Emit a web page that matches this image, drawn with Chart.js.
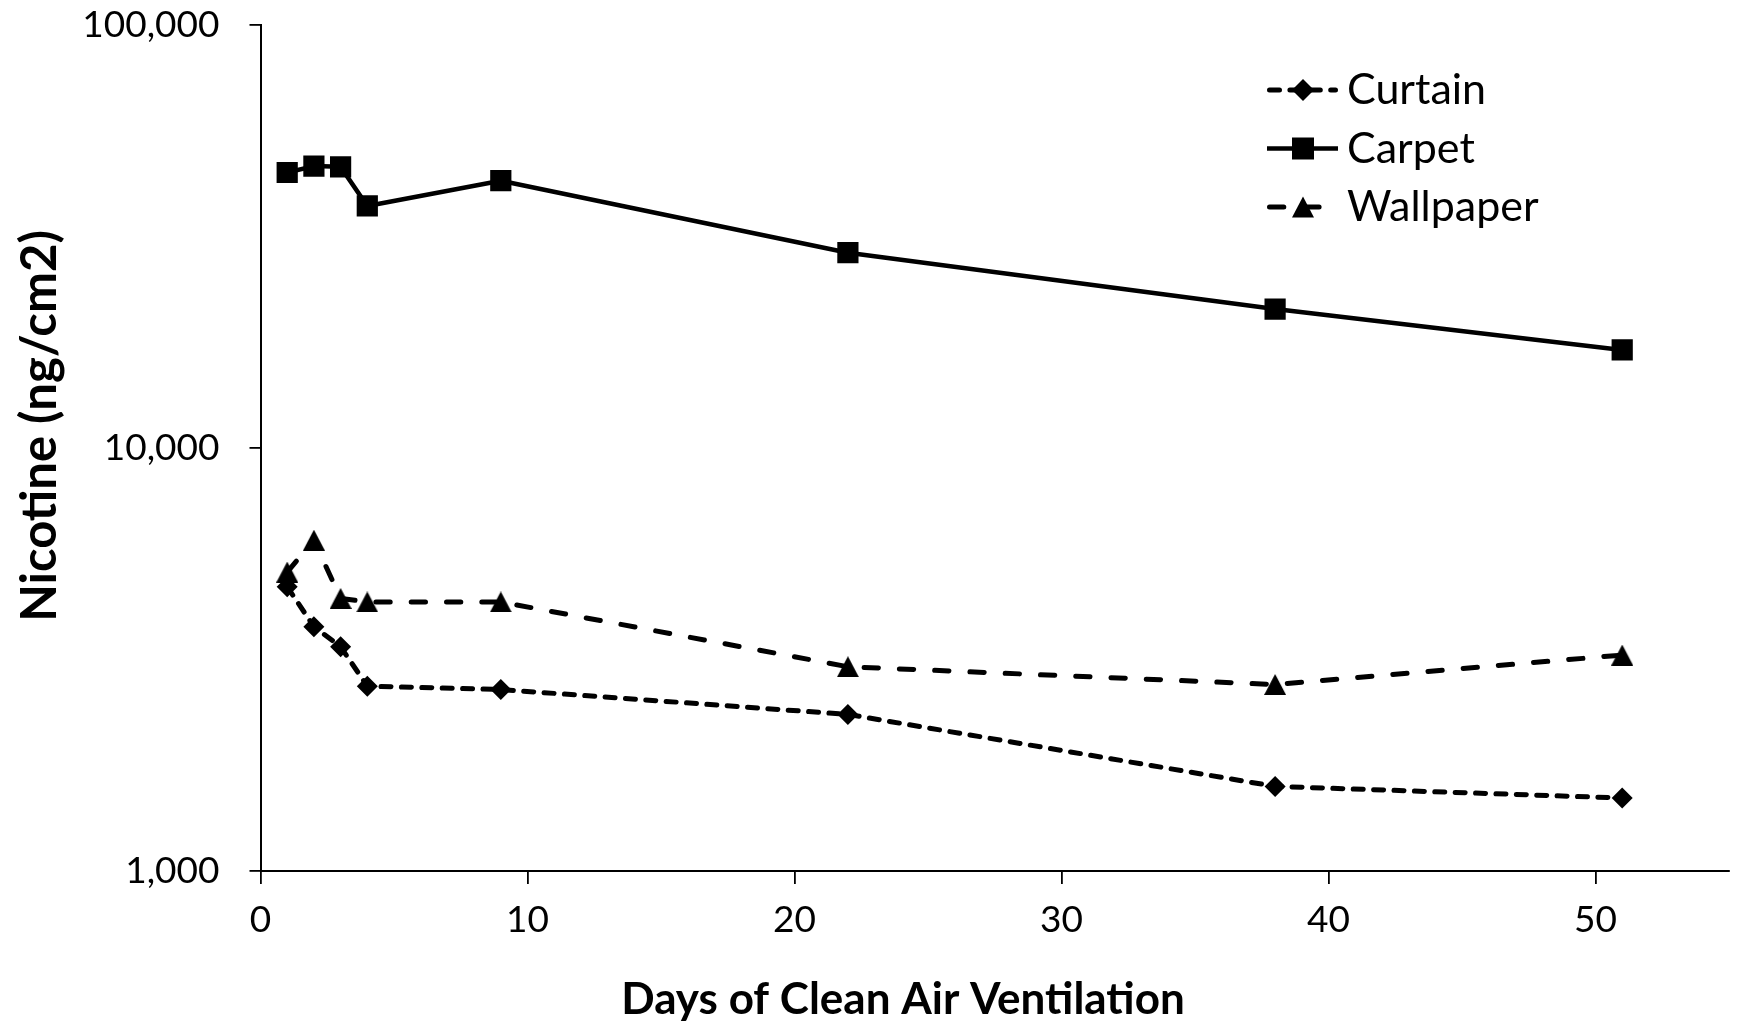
<!DOCTYPE html>
<html><head><meta charset="utf-8">
<script src="https://cdn.jsdelivr.net/npm/chart.js@4/dist/chart.umd.min.js"></script>
<style>html,body{margin:0;padding:0;background:#fff}#wrap{width:1738px;height:1024px;position:relative}</style>
</head><body><div id="wrap"><canvas id="c"></canvas></div>
<script>
// ---- data ----
const days = [1, 2, 3, 4, 9, 22, 38, 51];
const curtain = [4700, 3780, 3390, 2735, 2685, 2345, 1585, 1488];
const carpet = [44800, 46400, 46200, 37350, 42850, 28950, 21300, 17050];
const wallpaper = [5090, 6055, 4410, 4325, 4325, 3040, 2760, 3240];
const seriesNames = ['Curtain', 'Carpet', 'Wallpaper'];
const yTickValues = [1000, 10000, 100000];
const xTickValues = [0, 10, 20, 30, 40, 50];
const xTitle = 'Days of Clean Air Ventilation';
const yTitle = 'Nicotine (ng/cm2)';

const FONT = 'Lato, "Open Sans", sans-serif';

function triImage(w, h) {
  const c = document.createElement('canvas');
  c.width = w; c.height = h;
  const g = c.getContext('2d');
  g.fillStyle = '#000';
  g.beginPath();
  g.moveTo(w / 2, 0);
  g.lineTo(w, h);
  g.lineTo(0, h);
  g.closePath();
  g.fill();
  return c;
}
const tri = triImage(22, 21);

function pts(vals) { return days.map((d, i) => ({ x: d, y: vals[i] })); }

const styles = [
  { dash: [10, 10.4], width: 5, marker: 'rectRot', radius: 10.5 },
  { dash: [], width: 4.5, marker: 'rect', radius: 15 },
  { dash: [14.3, 21], width: 5, marker: tri, radius: 11 }
];
const seriesValues = [curtain, carpet, wallpaper];

const datasets = seriesNames.map((name, i) => ({
  label: name,
  data: pts(seriesValues[i]),
  borderColor: '#000',
  backgroundColor: '#000',
  borderWidth: styles[i].width,
  borderDash: styles[i].dash,
  borderCapStyle: styles[i].dash.length ? 'round' : 'butt',
  borderJoinStyle: 'round',
  pointStyle: styles[i].marker,
  pointRadius: styles[i].radius,
  pointHoverRadius: styles[i].radius,
  pointBackgroundColor: '#000',
  pointBorderColor: '#000',
  pointBorderWidth: 0,
  showLine: true,
  tension: 0,
  fill: false
}));

function drawMarker(ctx, kind, x, y) {
  ctx.fillStyle = '#000';
  ctx.beginPath();
  if (kind === 'rect') {
    ctx.rect(x - 11, y - 11, 22, 22);
  } else if (kind === 'rectRot') {
    ctx.moveTo(x, y - 11); ctx.lineTo(x + 11, y); ctx.lineTo(x, y + 11); ctx.lineTo(x - 11, y); ctx.closePath();
  } else {
    ctx.moveTo(x, y - 10.5); ctx.lineTo(x + 11, y + 10.5); ctx.lineTo(x - 11, y + 10.5); ctx.closePath();
  }
  ctx.fill();
}

const decor = {
  id: 'decor',
  afterDraw(chart) {
    const ctx = chart.ctx;
    ctx.save();
    // legend
    const kinds = ['rectRot', 'rect', 'tri'];
    const rowY = [90, 148.5, 207];
    chart.data.datasets.forEach((ds, i) => {
      const y = rowY[i];
      const x0 = 1267, x1 = 1338, xm = 1303;
      ctx.save();
      ctx.strokeStyle = '#000';
      ctx.lineWidth = ds.borderWidth;
      ctx.lineCap = ds.borderDash.length ? 'round' : 'butt';
      ctx.setLineDash(ds.borderDash);
      ctx.beginPath();
      ctx.moveTo(x0 + (ds.borderDash.length ? 2.5 : 0), y);
      ctx.lineTo(x1 - (ds.borderDash.length ? 2.5 : 0), y);
      ctx.stroke();
      ctx.restore();
      drawMarker(ctx, kinds[i], xm, y);
      ctx.fillStyle = '#000';
      ctx.font = '43px ' + FONT;
      ctx.textAlign = 'left';
      ctx.textBaseline = 'alphabetic';
      ctx.fillText(ds.label, 1347, y + 14);
    });
    // axis titles
    ctx.fillStyle = '#000';
    ctx.textAlign = 'center';
    ctx.textBaseline = 'alphabetic';
    ctx.font = 'bold 44px ' + FONT;
    ctx.fillText(xTitle, 903, 1014);
    ctx.font = 'bold 49px ' + FONT;
    ctx.translate(56, 426);
    ctx.rotate(-Math.PI / 2);
    ctx.fillText(yTitle, 0, 0);
    ctx.restore();
  }
};

new Chart(document.getElementById('c'), {
  type: 'scatter',
  data: { datasets },
  plugins: [decor],
  options: {
    responsive: true,
    maintainAspectRatio: false,
    animation: false,
    events: [],
    layout: { autoPadding: false, padding: { left: 0, right: 9, top: 0, bottom: 0 } },
    plugins: { legend: { display: false }, tooltip: { enabled: false }, title: { display: false } },
    scales: {
      x: {
        type: 'linear',
        min: 0, max: 55,
        afterBuildTicks: s => { s.ticks = xTickValues.map(v => ({ value: v })); },
        afterFit: s => { s.height = 153; s.paddingLeft = 0; s.paddingRight = 0; },
        ticks: { includeBounds: false, color: '#000', font: { family: FONT, size: 37 }, padding: 14, maxRotation: 0 },
        grid: { display: true, drawOnChartArea: false, drawTicks: true, tickLength: 13, color: '#000', lineWidth: 1.8 },
        border: { display: true, color: '#000', width: 2 }
      },
      y: {
        type: 'logarithmic',
        min: 1000, max: 100000,
        afterBuildTicks: s => { s.ticks = yTickValues.map(v => ({ value: v })); },
        afterFit: s => { s.width = 260.5; s.paddingTop = 25; s.paddingBottom = 0; },
        ticks: { color: '#000', font: { family: FONT, size: 37 }, padding: 30,
          callback: v => Number(v).toLocaleString('en-US') },
        grid: { display: true, drawOnChartArea: false, drawTicks: true, tickLength: 11, color: '#000', lineWidth: 1.8 },
        border: { display: true, color: '#000', width: 2 }
      }
    }
  }
});
</script></body></html>
